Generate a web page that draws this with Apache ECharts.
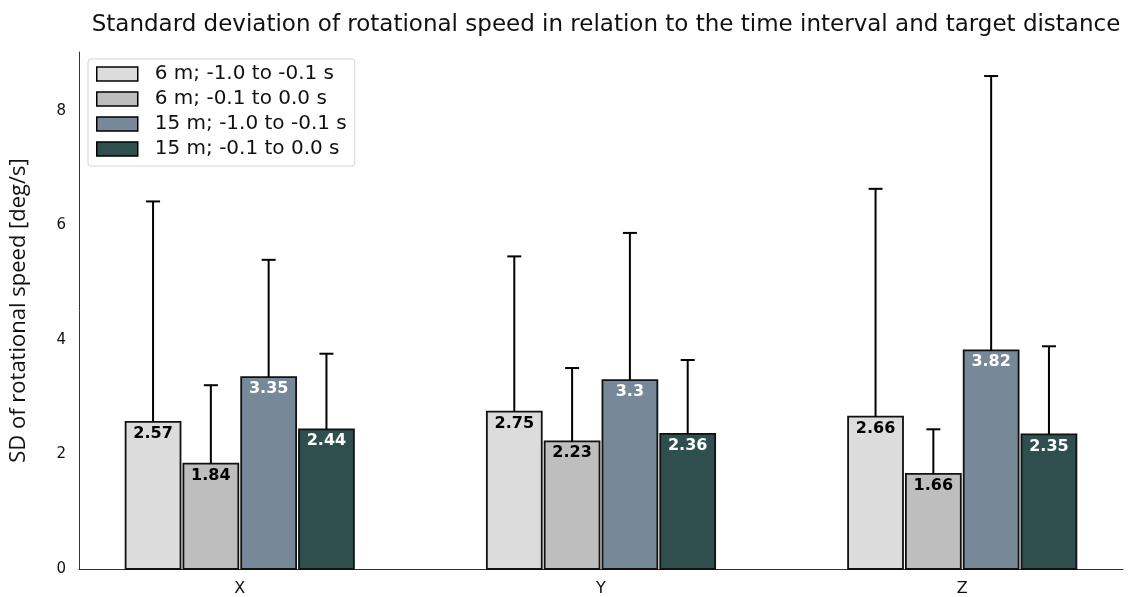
<!DOCTYPE html>
<html>
<head>
<meta charset="utf-8">
<script src="https://cdn.jsdelivr.net/npm/echarts@6/dist/echarts.min.js"></script>
<style>html,body{margin:0;padding:0;background:#fff}#chart{width:1131px;height:597px}</style>
</head>
<body>
<div id="chart"></div>
<script>
const categories = ['X', 'Y', 'Z'];
const seriesNames = ['6 m; -1.0 to -0.1 s', '6 m; -0.1 to 0.0 s', '15 m; -1.0 to -0.1 s', '15 m; -0.1 to 0.0 s'];
const mean6Early = [2.57, 2.75, 2.66];
const mean6Late = [1.84, 2.23, 1.66];
const mean15Early = [3.35, 3.3, 3.82];
const mean15Late = [2.44, 2.36, 2.35];
const sd6Early = [3.85, 2.71, 3.98];
const sd6Late = [1.37, 1.28, 0.78];
const sd15Early = [2.05, 2.57, 4.79];
const sd15Late = [1.32, 1.29, 1.54];
const yTicks = [0, 2, 4, 6, 8];

const means = [mean6Early, mean6Late, mean15Early, mean15Late];
const sds = [sd6Early, sd6Late, sd15Early, sd15Late];
const colors = ['#dcdcdc', '#bebebe', '#778899', '#2f4f4f'];
const labelColors = ['#000', '#000', '#fff', '#fff'];
const offsets = [-0.24, -0.08, 0.08, 0.24];
const barW = 0.152;

const chart = echarts.init(document.getElementById('chart'), null, {renderer: 'canvas'});

function makeSeries(si) {
  return {
    name: seriesNames[si],
    type: 'custom',
    itemStyle: {color: colors[si], borderColor: '#000', borderWidth: 1.5},
    encode: {x: 0, y: 1},
    data: categories.map((c, ci) => [ci + offsets[si], means[si][ci], sds[si][ci]]),
    renderItem: function (params, api) {
      const xc = api.value(0), v = api.value(1), e = api.value(2);
      const p0 = api.coord([xc - barW / 2, v]);
      const p1 = api.coord([xc + barW / 2, 0]);
      const top = api.coord([xc, v]);
      const et = api.coord([xc, v + e]);
      return {
        type: 'group',
        children: [
          {type: 'rect', shape: {x: p0[0], y: p0[1], width: p1[0] - p0[0], height: p1[1] - p0[1]},
           style: {fill: colors[si], stroke: '#111', lineWidth: 1.8}},
          {type: 'line', shape: {x1: top[0], y1: top[1], x2: et[0], y2: et[1]},
           style: {stroke: '#000', lineWidth: 2}},
          {type: 'line', shape: {x1: et[0] - 7, y1: et[1], x2: et[0] + 7, y2: et[1]},
           style: {stroke: '#000', lineWidth: 2}},
          {type: 'text', x: top[0], y: top[1] + 12,
           style: {text: String(v), fill: labelColors[si], font: 'bold 16px "DejaVu Sans"', align: 'center', verticalAlign: 'middle'}}
        ]
      };
    }
  };
}

chart.setOption({
  animation: false,
  backgroundColor: '#fff',
  title: {
    text: 'Standard deviation of rotational speed in relation to the time interval and target distance',
    left: 601, textAlign: 'center', top: 9,
    textStyle: {fontFamily: 'DejaVu Sans', fontSize: 23, fontWeight: 'normal', color: '#111'}
  },
  legend: {
    orient: 'vertical', left: 88, top: 59,
    padding: [5, 8, 7, 8],
    itemGap: 5, itemWidth: 41, itemHeight: 14,
    backgroundColor: '#fff', borderColor: '#d4d4d4', borderWidth: 1, borderRadius: 3,
    textStyle: {fontFamily: 'DejaVu Sans', fontSize: 20, lineHeight: 20, color: '#111', padding: [0, 0, 0, 12]},
    data: seriesNames.map((n, i) => ({name: n, icon: 'rect', itemStyle: {color: colors[i], borderColor: '#000', borderWidth: 1.5}}))
  },
  grid: {left: 79, right: 8, top: 52, bottom: 28, containLabel: false},
  xAxis: {
    type: 'value', min: -0.445, max: 2.445,
    splitLine: {show: false},
    axisLine: {lineStyle: {color: '#333', width: 1}},
    axisTick: {show: false},
    axisLabel: {customValues: [0, 1, 2], formatter: v => categories[Math.round(v)], fontFamily: 'DejaVu Sans', fontSize: 16, color: '#111', margin: 12}
  },
  yAxis: {
    type: 'value', min: 0, max: 9.03,
    name: 'SD of rotational speed [deg/s]', nameLocation: 'middle', nameGap: 49,
    nameTextStyle: {fontFamily: 'Open Sans', fontSize: 22, color: '#111'},
    splitLine: {show: false},
    axisLine: {show: true, onZero: false, lineStyle: {color: '#333', width: 1}},
    axisTick: {show: false},
    axisLabel: {customValues: yTicks, fontFamily: 'DejaVu Sans', fontSize: 15, color: '#111', margin: 13}
  },
  series: [0, 1, 2, 3].map(makeSeries)
});
</script>
</body>
</html>
